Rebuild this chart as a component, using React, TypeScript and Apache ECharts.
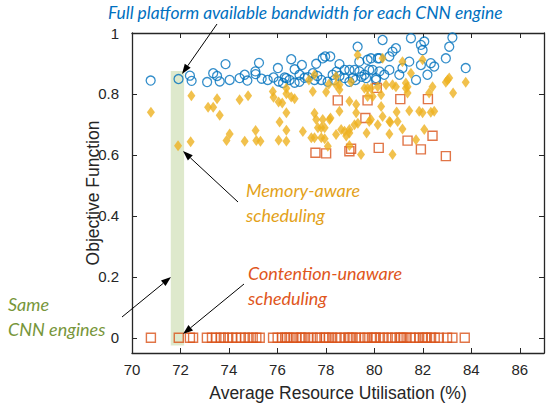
import React, { useEffect, useRef } from "react";
import * as echarts from "echarts";

// Full platform available bandwidth (blue circles): [utilisation %, objective]
const fullBandwidth: [number, number][] = [
  [70.77, 0.844], [71.92, 0.849], [72.39, 0.86], [72.46, 0.843], [73.1, 0.839], [73.35, 0.868],
  [73.51, 0.859], [73.62, 0.841], [73.86, 0.898], [74.03, 0.846], [74.44, 0.852], [74.65, 0.863],
  [74.76, 0.844], [75.1, 0.865], [75.09, 0.874], [75.24, 0.902], [75.35, 0.85], [75.6, 0.846],
  [75.84, 0.854], [76.02, 0.885], [76.05, 0.841], [76.23, 0.836], [76.3, 0.854], [76.37, 0.852],
  [76.5, 0.846], [76.57, 0.914], [76.71, 0.881], [76.71, 0.837], [76.91, 0.84], [76.91, 0.863],
  [77.01, 0.895], [77.12, 0.853], [77.26, 0.855], [77.46, 0.868], [77.53, 0.846], [77.6, 0.899],
  [77.65, 0.859], [77.81, 0.846], [77.87, 0.917], [77.97, 0.923], [78.07, 0.84], [78.18, 0.923],
  [78.28, 0.863], [78.35, 0.846], [78.44, 0.873], [78.56, 0.898], [78.56, 0.859], [78.77, 0.852],
  [78.77, 0.879], [78.97, 0.879], [78.97, 0.84], [79.11, 0.852], [79.18, 0.879], [79.22, 0.846],
  [79.31, 0.955], [79.38, 0.906], [79.38, 0.874], [79.47, 0.856], [79.59, 0.863], [79.66, 0.852],
  [79.72, 0.912], [79.79, 0.879], [79.86, 0.917], [79.93, 0.879], [80.07, 0.852], [80.07, 0.846],
  [80.14, 0.917], [80.21, 0.874], [80.21, 0.917], [80.34, 0.977], [80.41, 0.863], [80.62, 0.923],
  [80.62, 0.879], [80.75, 0.939], [80.89, 0.95], [81.03, 0.863], [81.16, 0.885], [81.44, 0.906],
  [81.51, 0.983], [81.72, 0.846], [81.92, 0.961], [81.92, 0.895], [81.99, 0.944], [82.06, 0.972],
  [82.19, 0.863], [82.33, 0.901], [82.47, 0.89], [82.95, 0.917], [83.09, 0.955], [83.22, 0.985],
  [83.77, 0.885],
];

// Memory-aware scheduling (yellow diamonds)
const memoryAware: [number, number][] = [
  [70.78, 0.74], [71.9, 0.63], [72.42, 0.643], [72.45, 0.794], [73.14, 0.756], [73.35, 0.756],
  [73.51, 0.784], [73.62, 0.73], [73.9, 0.647], [74.03, 0.669], [74.44, 0.781], [74.65, 0.645],
  [74.79, 0.794], [75.1, 0.68], [75.13, 0.647], [75.3, 0.645], [75.81, 0.808], [75.84, 0.789],
  [76.05, 0.774], [76.05, 0.648], [76.09, 0.708], [76.2, 0.77], [76.37, 0.801], [76.37, 0.819],
  [76.37, 0.738], [76.37, 0.681], [76.37, 0.645], [76.57, 0.79], [76.71, 0.784], [77.05, 0.677],
  [77.3, 0.846], [77.4, 0.656], [77.46, 0.808], [77.53, 0.863], [77.53, 0.737], [77.53, 0.656],
  [77.6, 0.716], [77.67, 0.689], [77.81, 0.689], [77.95, 0.689], [77.81, 0.656], [77.95, 0.653],
  [77.87, 0.716], [78.01, 0.806], [78.08, 0.628], [78.12, 0.832], [78.15, 0.716], [78.19, 0.721],
  [78.42, 0.83], [78.42, 0.857], [78.42, 0.667], [78.56, 0.814], [78.56, 0.83], [78.56, 0.743],
  [78.63, 0.683], [78.77, 0.678], [78.84, 0.662], [78.97, 0.776], [78.97, 0.683], [78.97, 0.672],
  [78.97, 0.631], [79.04, 0.839], [79.18, 0.699], [79.25, 0.765], [79.25, 0.738], [79.31, 0.928],
  [79.32, 0.704], [79.45, 0.601], [79.59, 0.819], [79.72, 0.819], [79.72, 0.792], [79.68, 0.672],
  [79.79, 0.71], [79.86, 0.819], [79.86, 0.716], [79.93, 0.792], [80.14, 0.824], [80.14, 0.699],
  [80.28, 0.797], [80.28, 0.759], [80.34, 0.917], [80.34, 0.726], [80.48, 0.83], [80.62, 0.71],
  [80.62, 0.669], [80.66, 0.707], [80.75, 0.83], [80.75, 0.601], [80.89, 0.824], [80.92, 0.741],
  [80.96, 0.71], [81.16, 0.906], [81.16, 0.685], [81.3, 0.819], [81.3, 0.836], [81.37, 0.824],
  [81.37, 0.803], [81.44, 0.745], [81.51, 0.868], [81.72, 0.65], [81.85, 0.743], [81.99, 0.912],
  [81.99, 0.738], [82.06, 0.683], [82.26, 0.803], [82.33, 0.74], [82.4, 0.824], [82.47, 0.743],
  [82.95, 0.838], [83.02, 0.846], [83.09, 0.852], [83.25, 0.803], [83.77, 0.838],
];

// Contention-unaware scheduling (red squares), non-zero results
const contentionNonZero: [number, number][] = [
  [77.57, 0.607], [78.01, 0.605], [78.49, 0.779], [78.97, 0.612], [79.04, 0.62], [79.63, 0.721],
  [79.72, 0.779], [80.1, 0.82], [80.18, 0.623], [81.07, 0.783], [81.37, 0.647], [81.92, 0.618],
  [82.21, 0.783], [82.4, 0.663], [82.95, 0.596],
];

// Contention-unaware scheduling, utilisation of the engines scoring 0
const contentionZeroX: number[] = [
  70.78, 71.93, 72.39, 72.52, 73.09, 73.3, 73.48, 73.66, 73.79, 73.97, 74.14, 74.3, 74.49, 74.66,
  74.81, 74.98, 75.13, 75.27, 75.82, 76.01, 76.19, 76.32, 76.5, 76.66, 76.79, 76.95, 77.14, 77.28,
  77.45, 77.63, 77.75, 77.94, 78.13, 78.26, 78.44, 78.58, 78.77, 78.93, 79.1, 79.24, 79.42, 79.59,
  79.72, 79.9, 80.06, 80.23, 80.38, 80.55, 80.71, 80.86, 81.04, 81.2, 81.33, 81.5, 81.66, 81.85,
  82.0, 82.17, 82.34, 82.49, 82.66, 83.0, 83.22, 83.73, 76.4, 77.0, 78.0, 79.0, 80.0, 81.1, 82.1,
];

const xTicks = [70, 72, 74, 76, 78, 80, 82, 84, 86];
const yTicks = [0, 0.2, 0.4, 0.6, 0.8, 1];

const BLUE = "#0072BD";
const YELLOW = "#EDB120";
const RED = "#D95319";
const AXIS = "#262626";

function arrow(x1: number, y1: number, x2: number, y2: number) {
  const dx = x2 - x1, dy = y2 - y1;
  const L = Math.sqrt(dx * dx + dy * dy);
  const ux = dx / L, uy = dy / L;
  const hl = 10, hw = 3.6;
  const bx = x2 - ux * hl, by = y2 - uy * hl;
  return [
    { type: "line", z: 120, shape: { x1, y1, x2: bx, y2: by }, style: { stroke: "#000", lineWidth: 1 } },
    {
      type: "polygon", z: 120,
      shape: { points: [[x2, y2], [bx - uy * hw, by + ux * hw], [bx + uy * hw, by - ux * hw]] },
      style: { fill: "#000" },
    },
  ];
}

export default function App() {
  const ref = useRef<HTMLDivElement>(null);
  useEffect(() => {
    if (!ref.current) return;
    const chart = echarts.init(ref.current, undefined, { renderer: "svg" });
    const annoFont = "Lato";
    const axisCommon = {
      type: "value",
      axisLine: { show: true, onZero: false, lineStyle: { color: AXIS, width: 1.3 } },
      splitLine: { show: false },
    };
    chart.setOption({
      animation: false,
      backgroundColor: "#fff",
      grid: { left: 132, right: 15, top: 33, bottom: 55 },
      xAxis: [
        {
          ...axisCommon, min: 70, max: 87, position: "bottom",
          axisTick: { show: true, inside: true, length: 5, lineStyle: { color: AXIS }, customValues: xTicks },
          axisLabel: { color: AXIS, fontSize: 15, fontFamily: "Liberation Sans", margin: 9, customValues: xTicks },
          name: "Average Resource Utilisation (%)", nameLocation: "middle", nameGap: 31, nameMoveOverlap: false,
          nameTextStyle: { color: AXIS, fontSize: 17.5, fontFamily: "Liberation Sans" },
        },
        {
          ...axisCommon, min: 70, max: 87, position: "top",
          axisTick: { show: true, inside: true, length: 5, lineStyle: { color: AXIS }, customValues: xTicks },
          axisLabel: { show: false },
        },
      ],
      yAxis: [
        {
          ...axisCommon, min: -0.05, max: 1, position: "left",
          axisTick: { show: true, inside: true, length: 5, lineStyle: { color: AXIS }, customValues: yTicks },
          axisLabel: { color: AXIS, fontSize: 15, fontFamily: "Liberation Sans", margin: 13, customValues: yTicks },
          name: "Objective Function", nameLocation: "middle", nameGap: 30, nameMoveOverlap: false,
          nameTextStyle: { color: AXIS, fontSize: 17.5, fontFamily: "Liberation Sans" },
        },
        {
          ...axisCommon, min: -0.05, max: 1, position: "right",
          axisTick: { show: true, inside: true, length: 5, lineStyle: { color: AXIS }, customValues: yTicks },
          axisLabel: { show: false },
        },
      ],
      series: [
        {
          type: "scatter", name: "Full", data: fullBandwidth, symbol: "circle", symbolSize: 9, z: 2,
          itemStyle: { color: "transparent", borderColor: BLUE, borderWidth: 1.3 },
        },
        {
          type: "scatter", name: "Contention", symbol: "rect", symbolSize: 9, z: 3,
          data: [...contentionNonZero, ...contentionZeroX.map((x) => [x, 0])],
          itemStyle: { color: "transparent", borderColor: RED, borderWidth: 1.4 },
        },
        {
          type: "scatter", name: "Memory", data: memoryAware, symbol: "diamond", symbolSize: [8, 11], z: 4,
          itemStyle: { color: YELLOW },
        },
        {
          type: "scatter", name: "band", data: [], z: 10,
          markArea: {
            silent: true,
            itemStyle: { color: "rgba(169,198,120,0.38)" },
            data: [[{ coord: [71.6, 0.875] }, { coord: [72.15, -0.025] }]],
          },
        },
      ],
      graphic: [
        {
          type: "text", left: 108, top: 4, z: 130,
          style: { text: "Full platform available bandwidth for each CNN engine", fill: "#0070C0",
            font: `italic 17.4px ${annoFont}` },
        },
        {
          type: "text", left: 246, top: 177, z: 130,
          style: { text: "Memory-aware\nscheduling", fill: "#E3A21A", font: `italic 18px ${annoFont}`, lineHeight: 25 },
        },
        {
          type: "text", left: 248, top: 260, z: 130,
          style: { text: "Contention-unaware\nscheduling", fill: "#E0561C", font: `italic 18px ${annoFont}`, lineHeight: 25 },
        },
        {
          type: "text", left: 8, top: 291, z: 130,
          style: { text: "Same\nCNN engines", fill: "#77963A", font: `italic 18px ${annoFont}`, lineHeight: 25 },
        },
        ...arrow(217, 24, 182, 74),
        ...arrow(238, 202, 183, 151),
        ...arrow(244, 284, 183, 334),
        ...arrow(122, 317, 171, 277),
      ],
    });
    return () => chart.dispose();
  }, []);
  return <div ref={ref} style={{ width: 559, height: 408, position: "absolute", left: 0, top: 0 }} />;
}
